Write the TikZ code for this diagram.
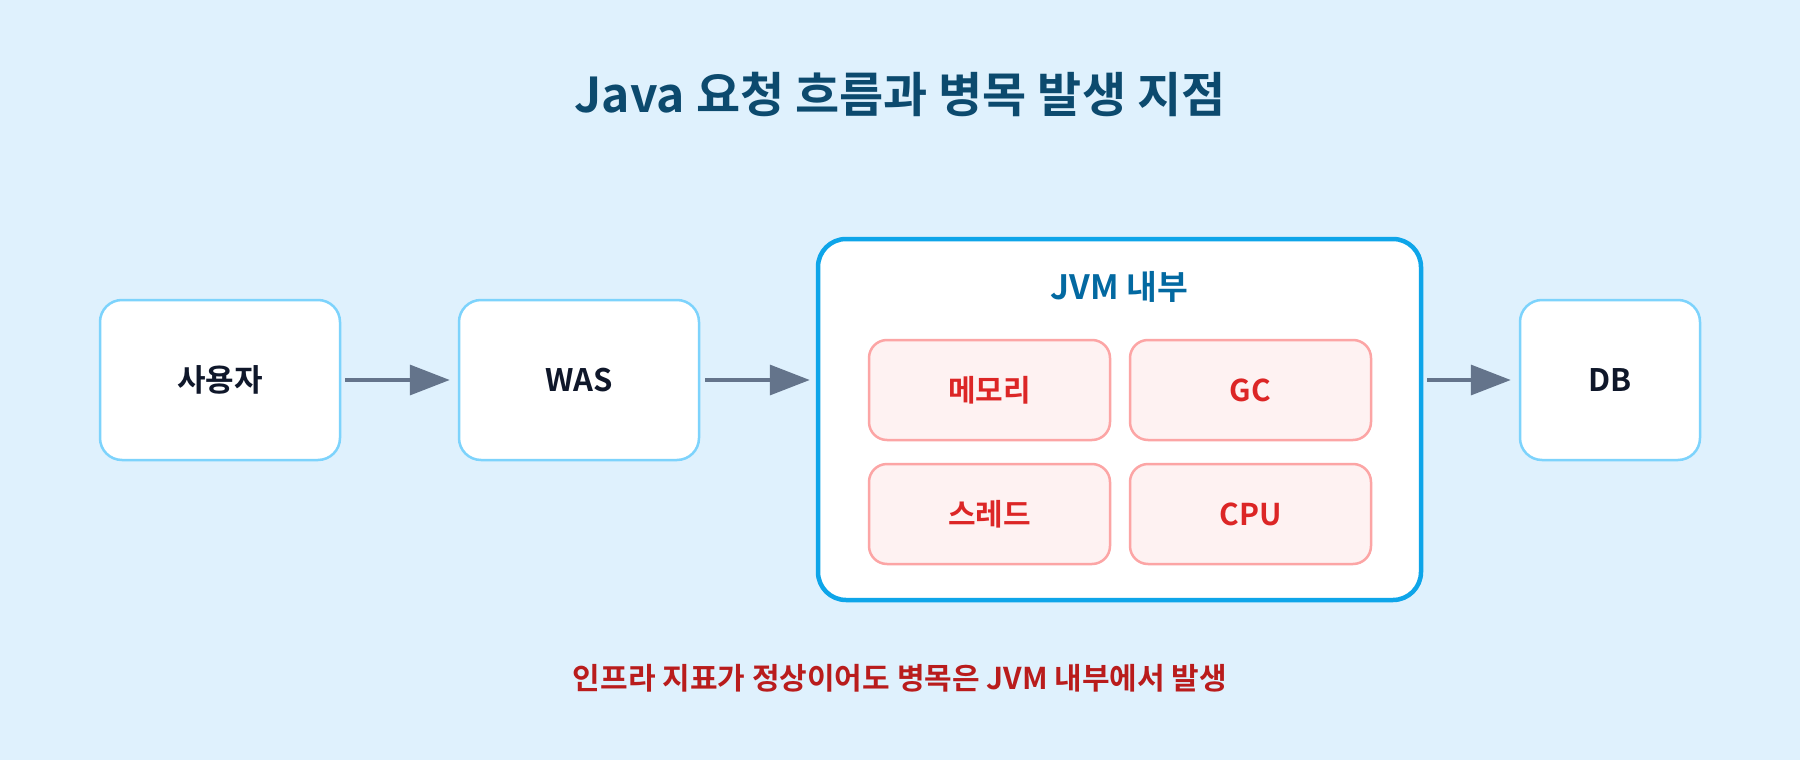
\documentclass[tikz,border=0pt]{standalone}
\usepackage{fontspec}
\setmainfont{Noto Sans CJK KR}[BoldFont=* Bold]
\usetikzlibrary{arrows.meta}
\definecolor{bgc}{HTML}{DFF1FD}
\definecolor{titlec}{HTML}{0C4A6E}
\definecolor{boxline}{HTML}{7DD3FC}
\definecolor{jvmline}{HTML}{0EA5E9}
\definecolor{jvmtext}{HTML}{0369A1}
\definecolor{darktext}{HTML}{0F172A}
\definecolor{arrowc}{HTML}{64748B}
\definecolor{redfill}{HTML}{FEF2F2}
\definecolor{redline}{HTML}{FCA5A5}
\definecolor{redtext}{HTML}{DC2626}
\definecolor{notec}{HTML}{B91C1C}
\tikzset{
  flowbox/.style={draw=boxline, line width=2.5pt, fill=white, rounded corners=22pt,
    minimum height=160pt, font=\bfseries\fontsize{31}{35}\selectfont, text=darktext},
  jvmbox/.style={draw=jvmline, line width=4.5pt, fill=white, rounded corners=28pt,
    minimum width=603pt, minimum height=361pt},
  partbox/.style={draw=redline, line width=2.5pt, fill=redfill, rounded corners=18pt,
    minimum width=241pt, minimum height=100pt, font=\bfseries\fontsize{30}{34}\selectfont, text=redtext},
  flowarrow/.style={draw=arrowc, line width=3.5pt, -{Triangle[length=40pt,width=30pt]}},
}
\begin{document}
\begin{tikzpicture}[x=1pt,y=-1pt]
\fill[bgc] (0,0) rectangle (1800,760);
\useasboundingbox (0,0) rectangle (1800,760);
\node[font=\bfseries\fontsize{48}{54}\selectfont, text=titlec] (title) at (900,94) {Java 요청 흐름과 병목 발생 지점};
\node[flowbox, minimum width=240pt] (user) at (220,380) {사용자};
\node[flowbox, minimum width=240pt] (was) at (579,380) {WAS};
\node[jvmbox] (jvm) at (1119.5,419.5) {};
\node[font=\bfseries\fontsize{33.5}{38}\selectfont, text=jvmtext] (jvmlabel) at (1119.5,287) {JVM 내부};
\node[partbox] (mem) at (989.5,390) {메모리};
\node[partbox] (gc) at (1250.5,390) {GC};
\node[partbox] (thr) at (989.5,514) {스레드};
\node[partbox] (cpu) at (1250.5,514) {CPU};
\node[flowbox, minimum width=180pt] (db) at (1610,380) {DB};
\draw[flowarrow, shorten <=4pt, shorten >=8pt] (user.east) -- (was.west);
\draw[flowarrow, shorten <=5pt, shorten >=6pt] (was.east) -- (was.east -| jvm.west);
\draw[flowarrow, shorten <=4pt, shorten >=8pt] (jvm.east |- db.west) -- (db.west);
\node[font=\bfseries\fontsize{30}{34}\selectfont, text=notec] (note) at (900,678) {인프라 지표가 정상이어도 병목은 JVM 내부에서 발생};
\end{tikzpicture}
\end{document}
